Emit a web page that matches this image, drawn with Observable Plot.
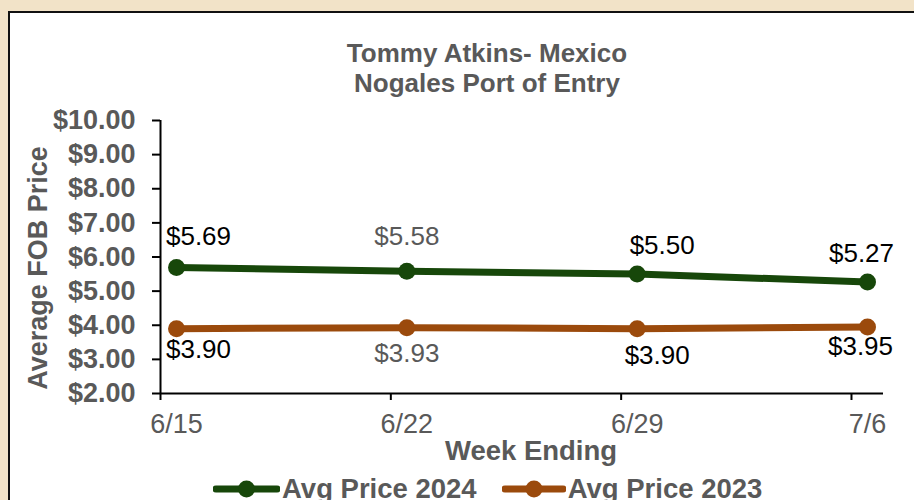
<!DOCTYPE html>
<html>
<head>
<meta charset="utf-8">
<script src="https://cdn.jsdelivr.net/npm/d3@7"></script>
<script src="https://cdn.jsdelivr.net/npm/@observablehq/plot@0.6"></script>
<style>
  html, body { margin: 0; padding: 0; }
  body { width: 914px; height: 500px; overflow: hidden; position: relative; background: #F2E3C8; font-family: "Liberation Sans", Arial, sans-serif; }
  #panel { position: absolute; left: 8px; top: 11px; width: 920px; height: 500px; background: #fff; border-left: 2px solid #111; border-top: 2px solid #111; }
  #title { position: absolute; left: 187px; width: 600px; top: 38px; text-align: center; font-size: 26px; line-height: 30px; font-weight: bold; color: #595959; }
  #chart { position: absolute; left: 0; top: 100px; }
  #legend { position: absolute; left: 213px; top: 473px; display: flex; align-items: center; font-size: 27.5px; font-weight: bold; color: #595959; white-space: nowrap; }
  #legend .item { display: flex; align-items: center; margin-right: 25px; }
  #legend svg { display: block; }
  #chart svg [aria-label="y-axis tick label"] text { font-weight: bold; }
</style>
</head>
<body>
<div id="panel"></div>
<div id="title">Tommy Atkins- Mexico<br>Nogales Port of Entry</div>
<div id="chart"></div>
<div id="legend"></div>
<script>
// ---- data ----
const weeks = ["6/15", "6/22", "6/29", "7/6"];
const price2024 = [5.69, 5.58, 5.50, 5.27];
const price2023 = [3.90, 3.93, 3.90, 3.95];
const seriesNames = ["Avg Price 2024", "Avg Price 2023"];
const yTicks = [2, 3, 4, 5, 6, 7, 8, 9, 10];

// ---- presentation ----
const colors = ["#17470a", "#9b4a0c"];
const labelNudge2024 = [[22, -31], [0, -35], [25, -28], [-6, -28]];
const labelNudge2023 = [[22, 21], [0, 26], [20, 27], [-7, 20]];
const labelFill = ["#000", "#595959", "#000", "#000"];

const rows = [];
weeks.forEach((w, i) => {
  rows.push({i, week: w, series: seriesNames[0], value: price2024[i], nudge: labelNudge2024[i]});
  rows.push({i, week: w, series: seriesNames[1], value: price2023[i], nudge: labelNudge2023[i]});
});

const pad = 0.0695;
const idx = weeks.map((_, i) => i);
const font = "Liberation Sans, Arial, sans-serif";

const labelMarks = rows.map(r => Plot.text([r], {
  x: "i", y: "value", text: d => "$" + d.value.toFixed(2),
  dx: r.nudge[0], dy: r.nudge[1], fontSize: 26, fill: labelFill[r.i],
  fontFamily: font
}));

const chart = Plot.plot({
  width: 914, height: 370,
  marginLeft: 160, marginRight: 31, marginTop: 20, marginBottom: 77,
  style: {fontFamily: font, background: "transparent", overflow: "visible"},
  x: {type: "linear", domain: [-pad, weeks.length - 1 + pad]},
  y: {domain: [2, 10]},
  color: {domain: seriesNames, range: colors},
  marks: [
    Plot.ruleY([2], {stroke: "#000", strokeWidth: 2}),
    Plot.ruleX([-pad], {y1: 2, y2: 10, stroke: "#000", strokeWidth: 2}),
    Plot.axisY({ticks: yTicks, tickSize: 8, tickPadding: 17, tickFormat: d => "$" + d.toFixed(2),
      fontSize: 27, fontWeight: "bold", fill: "#595959", stroke: "#000", strokeWidth: 2, label: null}),
    Plot.axisX({ticks: idx.map(i => i - pad), tickSize: 7, tickFormat: () => "", stroke: "#000", strokeWidth: 2, label: null}),
    Plot.axisX({ticks: idx, tickSize: 0, tickPadding: 20, tickFormat: i => weeks[i],
      fontSize: 27, fill: "#595959", label: null}),
    Plot.line(rows, {x: "i", y: "value", z: "series", stroke: "series", strokeWidth: 7}),
    Plot.dot(rows, {x: "i", y: "value", fill: "series", r: 8.5}),
    ...labelMarks,
    Plot.text(["Week Ending"], {frameAnchor: "bottom", textAnchor: "middle", lineAnchor: "middle", dx: 9, dy: 58, fontSize: 27.5, fontWeight: "bold", fill: "#595959"}),
    Plot.text(["Average FOB Price"], {frameAnchor: "left", textAnchor: "middle", lineAnchor: "middle", rotate: -90, dx: -122, dy: 11, fontSize: 27, fontWeight: "bold", fill: "#595959"})
  ]
});
document.getElementById("chart").appendChild(chart);

// legend
const legend = document.getElementById("legend");
const swW = [67, 64];
seriesNames.forEach((name, k) => {
  const item = document.createElement("div");
  item.className = "item";
  const w = swW[k];
  item.innerHTML = `<svg width="${w}" height="24" style="margin-right:2px"><line x1="3" x2="${w - 3}" y1="12" y2="12" stroke="${colors[k]}" stroke-width="7" stroke-linecap="round"/><circle cx="${w / 2}" cy="12" r="8.5" fill="${colors[k]}"/></svg><span>${name}</span>`;
  legend.appendChild(item);
});
</script>
</body>
</html>
